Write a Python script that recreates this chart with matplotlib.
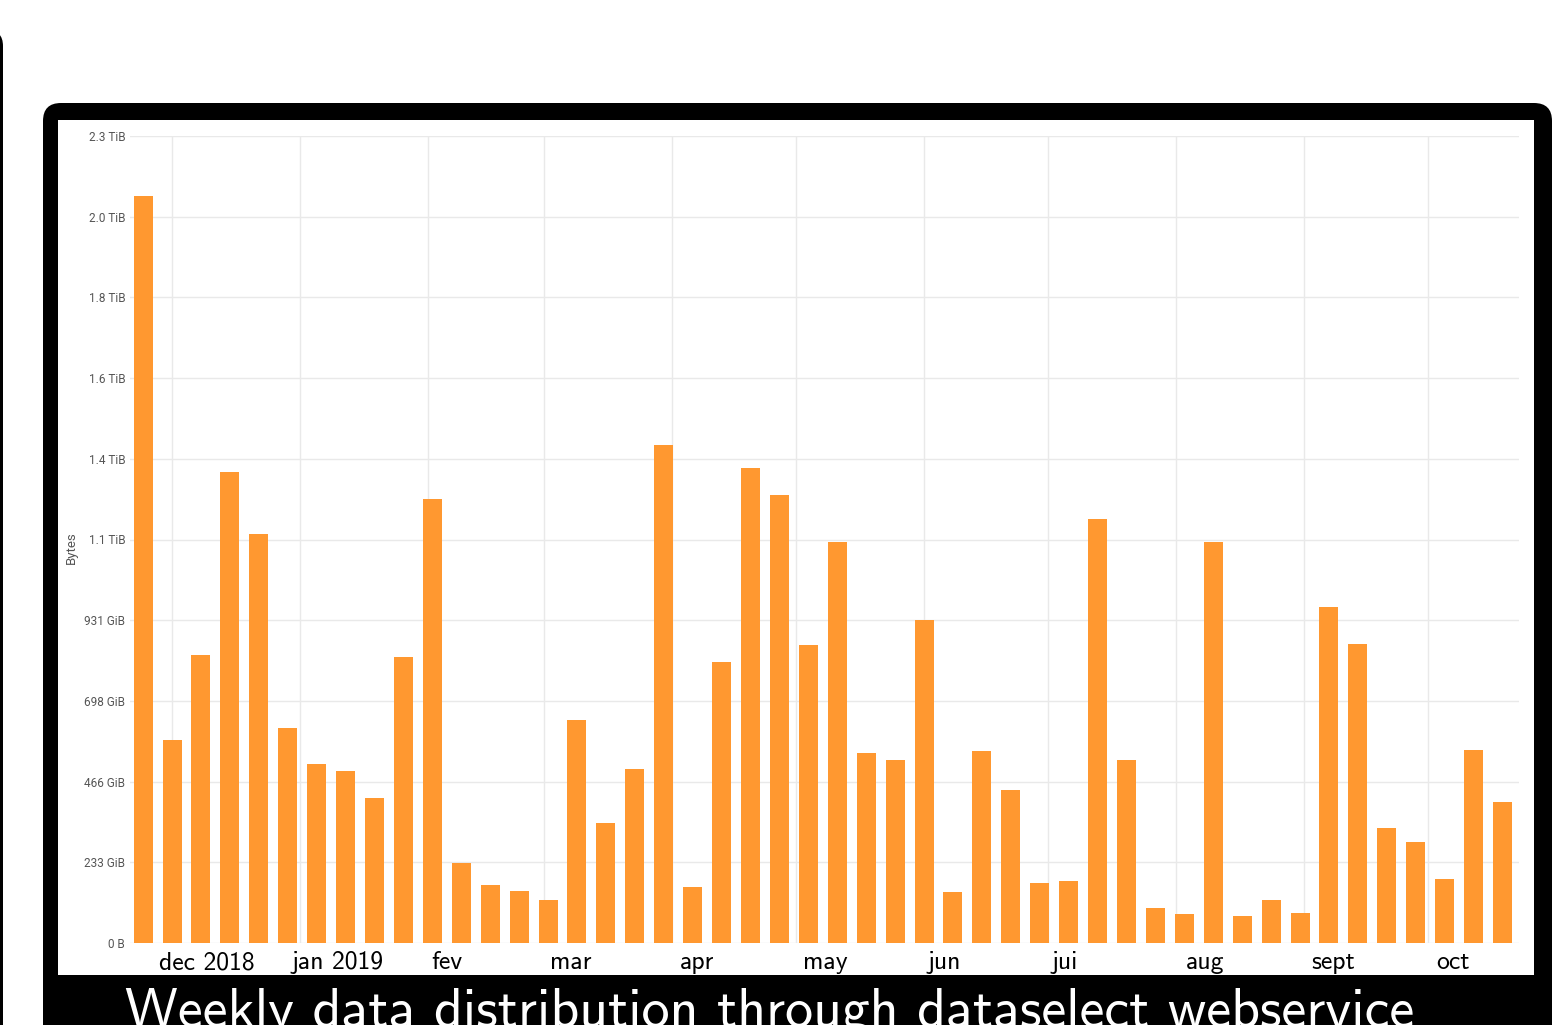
import datetime as dt

import matplotlib
matplotlib.use("Agg")
import matplotlib.pyplot as plt
import matplotlib.patches as mpatches
import matplotlib.transforms as mtransforms

# weekly volume in GiB, one bar per week starting 2018-11-24
first_week = dt.datetime(2018, 11, 24)
weekly_gib = [2154, 585, 830, 1358, 1179, 620, 516, 496, 418, 825,
              1280, 231, 167, 150, 124, 643, 346, 502, 1436, 161,
              810, 1370, 1292, 859, 1156, 548, 528, 931, 147, 554,
              441, 173, 179, 1223, 528, 101, 84, 1156, 78, 124,
              87, 969, 862, 332, 291, 185, 557, 407]

# y ticks: 2.5 TiB split in 11 steps
ytick_labels = ["0 B", "233 GiB", "466 GiB", "698 GiB", "931 GiB", "1.1 TiB",
                "1.4 TiB", "1.6 TiB", "1.8 TiB", "2.0 TiB", "2.3 TiB"]
ytick_step = 2560 / 11

month_starts = [dt.datetime(2018, 12, 1), dt.datetime(2019, 1, 1), dt.datetime(2019, 2, 1),
                dt.datetime(2019, 3, 1), dt.datetime(2019, 4, 1), dt.datetime(2019, 5, 1),
                dt.datetime(2019, 6, 1), dt.datetime(2019, 7, 1), dt.datetime(2019, 8, 1),
                dt.datetime(2019, 9, 1), dt.datetime(2019, 10, 1)]
month_labels = ["dec 2018", "jan 2019", "fev", "mar", "apr", "may",
                "jun", "jui", "aug", "sept", "oct"]
month_label_dates = [dt.datetime(2018, 12, 9, 12), dt.datetime(2019, 1, 10), dt.datetime(2019, 2, 5, 12),
                     dt.datetime(2019, 3, 7, 12), dt.datetime(2019, 4, 7), dt.datetime(2019, 5, 8),
                     dt.datetime(2019, 6, 6), dt.datetime(2019, 7, 5), dt.datetime(2019, 8, 8),
                     dt.datetime(2019, 9, 8), dt.datetime(2019, 10, 7)]

title = "Weekly data distribution through dataselect webservice"

W, H = 1554, 1025
fig = plt.figure(figsize=(W / 100, H / 100), dpi=100)
fig.patch.set_facecolor("white")
px = mtransforms.Affine2D().scale(1 / W, 1 / H) + fig.transFigure

# slide frames
fig.patches.append(mpatches.FancyBboxPatch((-60, -100), 63, 1095, boxstyle="round,pad=0,rounding_size=16",
                                           transform=px, facecolor="black", edgecolor="none"))
fig.patches.append(mpatches.FancyBboxPatch((43, -100), 1509, 1022, boxstyle="round,pad=0,rounding_size=18",
                                           transform=px, facecolor="black", edgecolor="none"))
fig.patches.append(mpatches.Rectangle((58, 50), 1476, 855, transform=px,
                                      facecolor="white", edgecolor="none"))

ax = fig.add_axes([130 / W, (H - 943) / H, (1519 - 130) / W, (943 - 136) / H])
ax.set_zorder(5)
ax.patch.set_alpha(0)

dates = [first_week + dt.timedelta(days=7 * i) for i in range(len(weekly_gib))]
ax.bar(dates, weekly_gib, width=4.6, color="#FF9830", zorder=3)

ax.set_ylim(0, 10 * ytick_step)
ax.set_yticks([i * ytick_step for i in range(len(ytick_labels))])
ax.set_yticklabels(ytick_labels)
ax.set_xlim(dt.datetime(2018, 11, 20, 20), dt.datetime(2019, 10, 23))

for d in month_starts:
    ax.axvline(d, color="#e9e9e9", linewidth=1, zorder=1)
ax.grid(axis="y", color="#e9e9e9", linewidth=1, zorder=1)

ax.set_xticks(month_label_dates)
ax.set_xticklabels(month_labels, family="cmss10", fontsize=18.5, color="black")
ax.tick_params(axis="x", length=0, pad=6)
ax.tick_params(axis="y", length=0, pad=3.5, labelsize=8.5, labelcolor="#555555")
for lab in ax.get_yticklabels():
    lab.set_family(["Roboto", "DejaVu Sans"])

ax.set_ylabel("Bytes", fontsize=9.5, color="#555555", family=["Roboto", "DejaVu Sans"])
ax.yaxis.set_label_coords(-0.0375, 0.49)

for s in ax.spines.values():
    s.set_visible(False)

fig.text(125 / W, (H - 1027) / H, title, family="cmss10", fontsize=40.3,
         color="white", ha="left", va="baseline")

fig.savefig("out.png", dpi=100)
